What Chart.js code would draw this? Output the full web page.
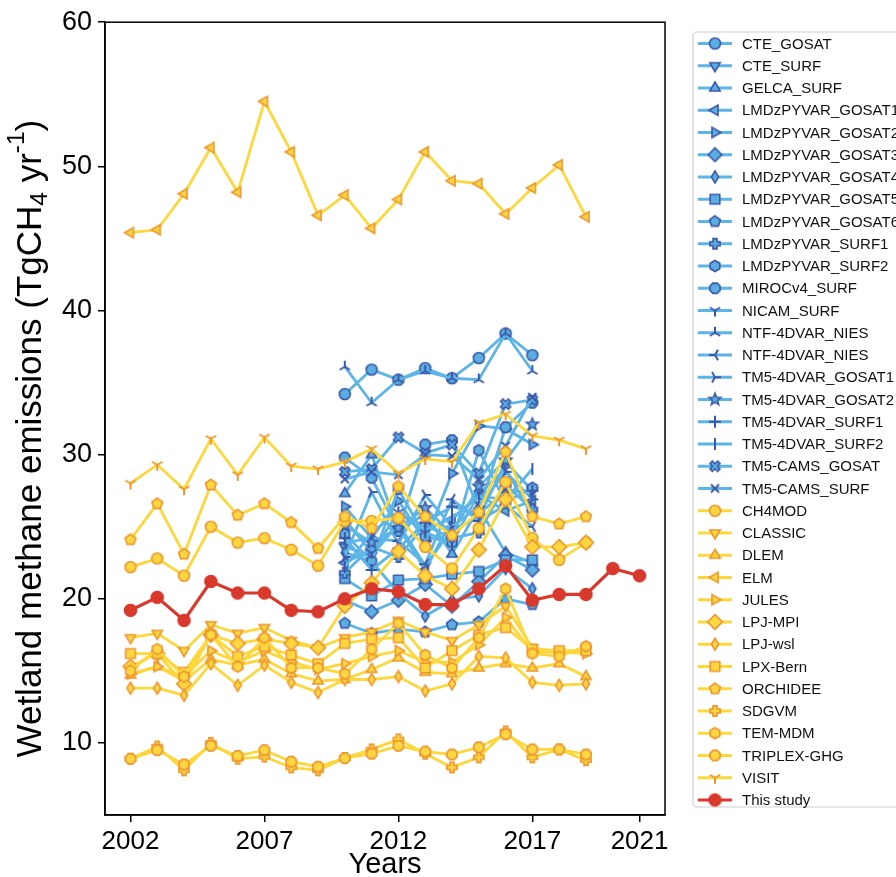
<!DOCTYPE html>
<html>
<head>
<meta charset="utf-8">
<script src="https://cdn.jsdelivr.net/npm/chart.js@4.4.0/dist/chart.umd.min.js"></script>
<style>
  html, body { margin: 0; padding: 0; background: #fff; }
</style>
</head>
<body>
<canvas id="wetlandChart" width="896" height="877"></canvas>
<script>
// ---- data ----
var lsmYears = [2002, 2003, 2004, 2005, 2006, 2007, 2008, 2009, 2010, 2011, 2012, 2013, 2014, 2015, 2016, 2017, 2018, 2019];
var invYears = [2010, 2011, 2012, 2013, 2014, 2015, 2016, 2017];
var studyYears = [2002, 2003, 2004, 2005, 2006, 2007, 2008, 2009, 2010, 2011, 2012, 2013, 2014, 2015, 2016, 2017, 2018, 2019, 2020, 2021];
var xTicks = [2002, 2007, 2012, 2017, 2021];
var yTicks = [10, 20, 30, 40, 50, 60];

var invNames = [
    "CTE_GOSAT", "CTE_SURF", "GELCA_SURF",
    "LMDzPYVAR_GOSAT1", "LMDzPYVAR_GOSAT2", "LMDzPYVAR_GOSAT3", "LMDzPYVAR_GOSAT4",
    "LMDzPYVAR_GOSAT5", "LMDzPYVAR_GOSAT6", "LMDzPYVAR_SURF1", "LMDzPYVAR_SURF2",
    "MIROCv4_SURF", "NICAM_SURF", "NTF-4DVAR_NIES", "NTF-4DVAR_NIES",
    "TM5-4DVAR_GOSAT1", "TM5-4DVAR_GOSAT2", "TM5-4DVAR_SURF1", "TM5-4DVAR_SURF2",
    "TM5-CAMS_GOSAT", "TM5-CAMS_SURF"];
var invValues = [
    [34.2, 35.9, 35.2, 36.0, 35.3, 36.7, 38.4, 36.9],
    [23.6, 23.0, 25.2, 22.3, 24.8, 25.6, 29.5, 27.5],
    [27.3, 30.0, 24.7, 25.9, 23.1, 26.3, 23.2, 22.5],
    [22.5, 23.4, 25.0, 22.0, 25.5, 27.2, 26.1, 26.8],
    [26.4, 24.2, 26.8, 24.0, 28.7, 32.0, 31.8, 30.7],
    [19.9, 19.1, 19.9, 21.0, 19.5, 21.2, 23.0, 22.0],
    [23.2, 22.6, 20.4, 18.8, 19.9, 20.2, 22.1, 20.7],
    [21.4, 20.2, 21.3, 21.4, 21.7, 21.9, 22.7, 22.7],
    [18.3, 17.6, 17.9, 17.7, 18.2, 18.4, 20.0, 19.6],
    [21.8, 23.6, 22.9, 25.1, 24.2, 24.6, 27.9, 26.2],
    [24.5, 22.6, 27.6, 24.3, 23.9, 30.3, 26.7, 27.7],
    [29.8, 28.4, 24.7, 30.7, 31.0, 26.1, 31.9, 33.6],
    [25.5, 23.2, 26.0, 24.6, 23.9, 27.3, 29.0, 25.8],
    [36.1, 33.6, 35.2, 35.8, 35.3, 35.2, 38.4, 35.8],
    [23.9, 24.2, 24.0, 22.4, 26.9, 25.4, 26.5, 25.0],
    [22.9, 27.4, 23.8, 27.2, 25.0, 26.4, 28.8, 26.9],
    [25.1, 23.9, 24.9, 26.3, 24.5, 27.8, 29.6, 32.1],
    [24.2, 22.0, 23.5, 25.3, 26.4, 25.9, 27.4, 27.5],
    [22.2, 24.6, 26.0, 24.8, 25.6, 27.1, 26.9, 29.0],
    [28.8, 29.0, 31.2, 30.1, 30.7, 28.7, 33.5, 33.8],
    [28.3, 28.8, 28.6, 30.0, 29.9, 28.3, 30.6, 34.0]];

var lsmNames = ["CH4MOD", "CLASSIC", "DLEM", "ELM", "JULES", "LPJ-MPI", "LPJ-wsl",
    "LPX-Bern", "ORCHIDEE", "SDGVM", "TEM-MDM", "TRIPLEX-GHG", "VISIT"];
var lsmValues = [
    [22.2, 22.8, 21.6, 25.0, 23.9, 24.2, 23.4, 22.3, 25.4, 25.4, 25.6, 23.6, 22.1, 24.9, 28.1, 24.2, 22.7, 23.9],
    [17.3, 17.6, 16.4, 18.2, 17.6, 18.0, 17.1, 16.6, 17.3, 17.7, 18.5, 17.7, 17.1, 18.2, 19.5, 16.6, 16.3, 16.5],
    [14.7, 15.3, 14.3, 15.8, 15.4, 15.8, 14.8, 14.3, 14.4, 15.1, 15.9, 14.9, 14.8, 15.2, 15.5, 15.2, 15.5, 14.6],
    [45.4, 45.6, 48.1, 51.3, 48.2, 54.5, 51.0, 46.6, 48.0, 45.7, 47.7, 51.0, 49.0, 48.8, 46.7, 48.5, 50.1, 46.5],
    [14.8, 15.3, 14.6, 16.4, 15.6, 16.4, 15.6, 15.1, 15.5, 16.0, 16.4, 15.6, 15.6, 16.8, 18.7, 16.3, 16.3, 16.2],
    [15.3, 16.2, 14.1, 17.5, 16.9, 17.2, 16.9, 16.6, 19.5, 21.1, 23.3, 21.6, 20.7, 23.4, 26.9, 23.6, 23.6, 23.9],
    [13.8, 13.8, 13.3, 15.5, 14.0, 15.4, 14.2, 13.5, 14.4, 14.4, 14.6, 13.6, 14.1, 16.0, 15.9, 14.2, 14.0, 14.1],
    [16.2, 16.2, 14.9, 17.5, 16.0, 16.7, 16.1, 15.5, 16.9, 17.2, 17.3, 15.2, 16.4, 17.5, 18.0, 16.5, 16.4, 16.4],
    [24.1, 26.6, 23.1, 27.9, 25.8, 26.6, 25.3, 23.5, 25.7, 24.9, 27.8, 25.7, 24.4, 26.0, 30.2, 25.7, 25.2, 25.7],
    [8.9, 9.75, 8.1, 10.0, 8.9, 9.05, 8.3, 8.1, 8.95, 9.55, 10.25, 9.25, 8.3, 9.0, 10.8, 9.0, 9.55, 8.8],
    [15.0, 16.5, 14.6, 17.5, 15.3, 17.3, 15.2, 15.2, 14.8, 16.5, 18.3, 16.1, 15.2, 17.3, 20.7, 16.2, 16.0, 16.7],
    [8.9, 9.5, 8.5, 9.8, 9.1, 9.5, 8.7, 8.35, 8.95, 9.25, 9.8, 9.4, 9.2, 9.7, 10.6, 9.55, 9.55, 9.2],
    [28.0, 29.3, 27.6, 31.1, 28.6, 31.2, 29.2, 29.0, 29.5, 30.4, 28.7, 29.7, 29.5, 32.2, 32.8, 31.3, 31.0, 30.4]];

var studyName = "This study";
var studyValues = [19.2, 20.1, 18.5, 21.2, 20.4, 20.4, 19.2, 19.1, 20.0, 20.7, 20.5, 19.6, 19.6, 20.7, 22.3, 19.9, 20.3, 20.3, 22.1, 21.6];

// ---- styles ----
var invMarkers = ['o', 'v', '^', '<', '>', 'D', 'd', 's', 'p', 'P', 'h', '8', '1', '2', '3', '4', '*', '+', '|', 'X', 'x'];
var lsmMarkers = ['o', 'v', '^', '<', '>', 'D', 'd', 's', 'p', 'P', 'h', '8', '1'];

var colors = {
    blueLine: '#5cb5e6', blueFill: '#5aaee2', blueEdge: '#3b58a8',
    yellowLine: '#fdd73c', yellowFill: '#ffd640', yellowEdge: '#ec962f',
    red: '#d8392c'
};
var fam = 'Liberation Sans, Arial, Helvetica, sans-serif';

// draws a matplotlib-like marker on a small canvas, used as Chart.js pointStyle
function makeMarker(shape, fill, edge, size) {
    var s = size || 12;
    var c = document.createElement('canvas');
    c.width = c.height = s + 6;
    var g = c.getContext('2d');
    var r = s / 2;
    g.translate(c.width / 2, c.height / 2);
    g.lineWidth = 1.6;
    g.strokeStyle = edge;
    g.fillStyle = fill;
    g.lineJoin = 'miter';

    function poly(pts) {
        g.beginPath();
        pts.forEach(function (p, i) { i ? g.lineTo(p[0], p[1]) : g.moveTo(p[0], p[1]); });
        g.closePath();
        g.fill();
        g.stroke();
    }
    function reg(n, rot, rr) {
        var out = [];
        for (var k = 0; k < n; k++) {
            var a = rot + k * 2 * Math.PI / n;
            out.push([rr * Math.cos(a), rr * Math.sin(a)]);
        }
        return out;
    }
    function arms(angles, rr) {
        g.lineWidth = 2;
        g.beginPath();
        angles.forEach(function (a) {
            g.moveTo(0, 0);
            g.lineTo(rr * Math.cos(a), rr * Math.sin(a));
        });
        g.stroke();
    }
    var d90 = Math.PI / 2, t120 = 2 * Math.PI / 3;
    switch (shape) {
        case 'o': g.beginPath(); g.arc(0, 0, r * 0.92, 0, 2 * Math.PI); g.fill(); g.stroke(); break;
        case '^': poly(reg(3, -d90, r)); break;
        case 'v': poly(reg(3, d90, r)); break;
        case '<': poly(reg(3, Math.PI, r)); break;
        case '>': poly(reg(3, 0, r)); break;
        case 's': poly([[-r * .8, -r * .8], [r * .8, -r * .8], [r * .8, r * .8], [-r * .8, r * .8]]); break;
        case 'D': poly([[0, -r * 1.05], [r * 1.05, 0], [0, r * 1.05], [-r * 1.05, 0]]); break;
        case 'd': poly([[0, -r], [r * .6, 0], [0, r], [-r * .6, 0]]); break;
        case 'p': poly(reg(5, -d90, r * .95)); break;
        case 'h': poly(reg(6, -d90, r * .92)); break;
        case '8': poly(reg(8, Math.PI / 8, r * .92)); break;
        case '*':
            var st = [];
            for (var k = 0; k < 10; k++) {
                var rr = k % 2 ? r * .45 : r * 1.05;
                var a = -d90 + k * Math.PI / 5;
                st.push([rr * Math.cos(a), rr * Math.sin(a)]);
            }
            poly(st);
            break;
        case 'P':
            var w = r * .33, l = r * .85;
            poly([[-w, -l], [w, -l], [w, -w], [l, -w], [l, w], [w, w], [w, l], [-w, l], [-w, w], [-l, w], [-l, -w], [-w, -w]]);
            break;
        case 'X':
            var pts = [];
            for (var q = 0; q < 4; q++) {
                var base = Math.PI / 4 + q * d90;
                pts.push([.95 * r * Math.cos(base - 0.3), .95 * r * Math.sin(base - 0.3)]);
                pts.push([.95 * r * Math.cos(base + 0.3), .95 * r * Math.sin(base + 0.3)]);
                pts.push([.42 * r * Math.cos(base + d90 / 2), .42 * r * Math.sin(base + d90 / 2)]);
            }
            poly(pts);
            break;
        case '1': arms([d90, d90 + t120, d90 - t120], r); break;        // tri_down (Y)
        case '2': arms([-d90, -d90 + t120, -d90 - t120], r); break;     // tri_up
        case '3': arms([Math.PI, Math.PI + t120, Math.PI - t120], r); break; // tri_left
        case '4': arms([0, t120, -t120], r); break;                    // tri_right
        case '+': arms([0, d90, Math.PI, -d90], r); break;
        case '|': arms([d90, -d90], r); break;
        case 'x': arms([Math.PI / 4, 3 * Math.PI / 4, 5 * Math.PI / 4, 7 * Math.PI / 4], r * .95); break;
    }
    return c;
}

function points(years, vals) {
    return years.map(function (y, i) { return { x: y, y: vals[i] }; });
}

var datasets = [];
invNames.forEach(function (name, i) {
    datasets.push({
        label: name,
        data: points(invYears, invValues[i]),
        borderColor: colors.blueLine,
        pointStyle: makeMarker(invMarkers[i], colors.blueFill, colors.blueEdge, invMarkers[i] === 'D' ? 13 : 12)
    });
});
lsmNames.forEach(function (name, i) {
    datasets.push({
        label: name,
        data: points(lsmYears, lsmValues[i]),
        borderColor: colors.yellowLine,
        pointStyle: makeMarker(lsmMarkers[i], colors.yellowFill, colors.yellowEdge, lsmMarkers[i] === 'D' ? 14 : 12)
    });
});
datasets.push({
    label: studyName,
    data: points(studyYears, studyValues),
    borderColor: colors.red,
    borderWidth: 3.2,
    pointStyle: makeMarker('o', colors.red, colors.red, 13)
});
datasets.forEach(function (d, i) {
    d.order = -i;              // later series drawn on top, like matplotlib
    d.borderWidth = d.borderWidth || 2.8;
    d.pointRadius = 6;
    d.tension = 0;
    d.fill = false;
});

// frame box + y label with sub/superscript + legend
var decorations = {
    id: 'decorations',
    afterDraw: function (chart) {
        var ctx = chart.ctx, a = chart.chartArea;
        ctx.save();
        ctx.strokeStyle = '#000';
        ctx.lineWidth = 1.5;
        ctx.strokeRect(a.left, a.top, a.right - a.left, a.bottom - a.top);

        // y axis title
        var fs = 35;
        var parts = [
            { t: 'Wetland methane emissions (TgCH', s: fs, dy: 0 },
            { t: '4', s: fs * 0.7, dy: fs * 0.25 },
            { t: ' yr', s: fs, dy: 0 },
            { t: '-1', s: fs * 0.7, dy: -fs * 0.4 },
            { t: ')', s: fs, dy: 0 }];
        var total = 0;
        parts.forEach(function (p) { ctx.font = p.s + 'px ' + fam; p.w = ctx.measureText(p.t).width; total += p.w; });
        ctx.translate(31, (a.top + a.bottom) / 2 + 20);
        ctx.rotate(-Math.PI / 2);
        ctx.fillStyle = '#000';
        ctx.textBaseline = 'middle';
        var x = -total / 2;
        parts.forEach(function (p) {
            ctx.font = p.s + 'px ' + fam;
            ctx.fillText(p.t, x, p.dy);
            x += p.w;
        });
        ctx.restore();

        // legend
        ctx.save();
        var lx = 693, ly = 32, lw = 240, lh = 775, row = 22.25, y0 = 43.5;
        ctx.fillStyle = 'rgba(255,255,255,0.85)';
        ctx.strokeStyle = '#cfcfcf';
        ctx.lineWidth = 1.2;
        ctx.beginPath();
        ctx.roundRect(lx, ly, lw, lh, 4);
        ctx.fill();
        ctx.stroke();
        ctx.font = '15px ' + fam;
        ctx.textBaseline = 'middle';
        chart.data.datasets.forEach(function (d, i) {
            var y = y0 + i * row;
            ctx.strokeStyle = d.borderColor;
            ctx.lineWidth = d.borderWidth;
            ctx.beginPath();
            ctx.moveTo(698, y);
            ctx.lineTo(732, y);
            ctx.stroke();
            var img = d.pointStyle;
            ctx.drawImage(img, 715 - img.width / 2, y - img.height / 2);
            ctx.fillStyle = '#111';
            ctx.fillText(d.label, 742, y + 1);
        });
        ctx.restore();
    }
};

var ctx = document.getElementById('wetlandChart').getContext('2d');
var chart = new Chart(ctx, {
    type: 'line',
    data: { datasets: datasets },
    options: {
        responsive: false,
        animation: false,
        events: [],
        layout: { padding: { left: 0, right: 231, top: 20, bottom: 0 } },
        plugins: { legend: { display: false }, tooltip: { enabled: false } },
        scales: {
            x: {
                type: 'linear',
                min: 2001.05,
                max: 2021.95,
                afterBuildTicks: function (s) { s.ticks = xTicks.map(function (v) { return { value: v }; }); },
                afterFit: function (s) { s.height = 62; },
                ticks: {
                    color: '#000',
                    padding: 4,
                    maxRotation: 0,
                    font: { size: 26, family: fam },
                    callback: function (v) { return String(v); }
                },
                grid: { display: true, drawOnChartArea: false, drawTicks: true, tickLength: 7, color: '#000', lineWidth: 1.5 },
                border: { display: true, color: '#000', width: 1.5 },
                title: {
                    display: true, text: 'Years', color: '#000',
                    font: { size: 29, family: fam },
                    padding: { top: 0, bottom: -5 }
                }
            },
            y: {
                min: 5,
                max: 60,
                afterBuildTicks: function (s) { s.ticks = yTicks.map(function (v) { return { value: v }; }); },
                afterFit: function (s) { s.width = 105; },
                ticks: {
                    color: '#000',
                    padding: 6,
                    font: { size: 27, family: fam }
                },
                grid: { display: true, drawOnChartArea: false, drawTicks: true, tickLength: 7, color: '#000', lineWidth: 1.5 },
                border: { display: true, color: '#000', width: 1.5 }
            }
        }
    },
    plugins: [decorations]
});
</script>
</body>
</html>
